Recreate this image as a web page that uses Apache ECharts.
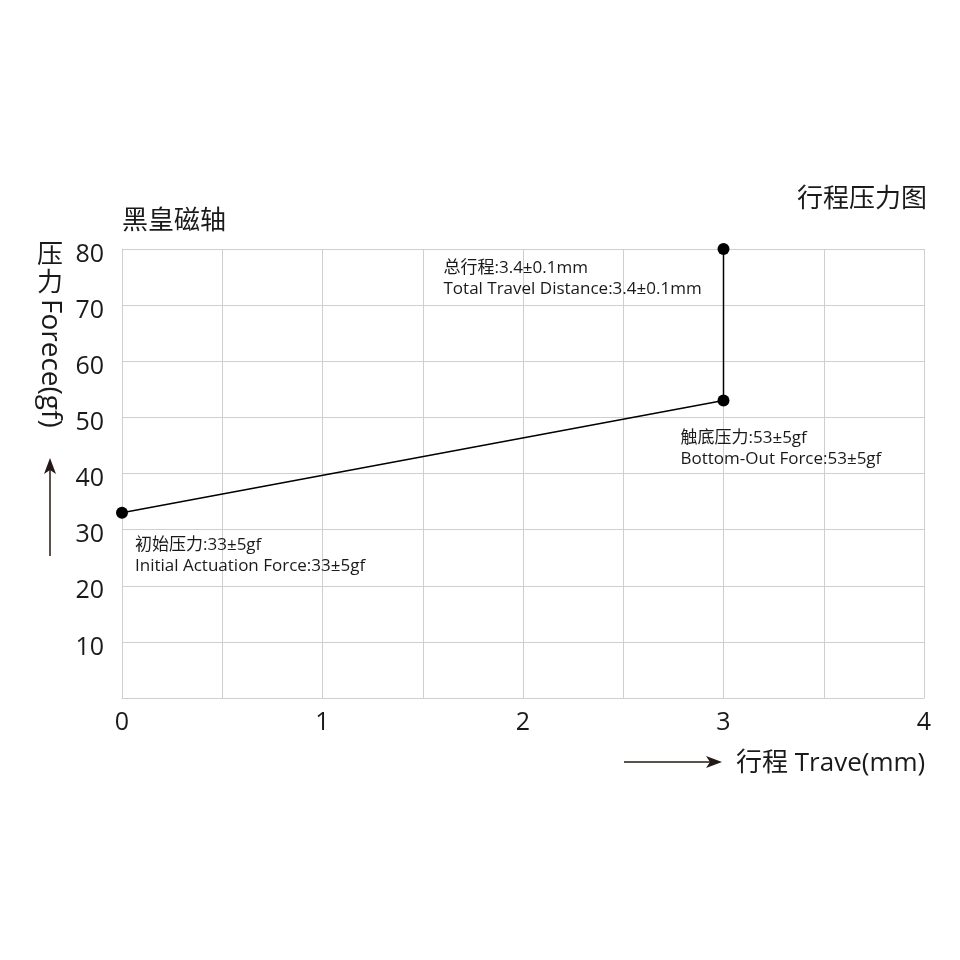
<!DOCTYPE html>
<html><head><meta charset="utf-8">
<script src="https://cdn.jsdelivr.net/npm/echarts@6/dist/echarts.min.js"></script>
<style>html,body{margin:0;padding:0;background:#fff}#c{width:960px;height:960px}</style>
</head><body><div id="c"></div>
<script>
var travel = [0, 3, 3];
var force = [33, 53, 80];
var notes = [
  '初始压力:33±5gf\nInitial Actuation Force:33±5gf',
  '触底压力:53±5gf\nBottom-Out Force:53±5gf',
  '总行程:3.4±0.1mm\nTotal Travel Distance:3.4±0.1mm'
];
var xTickLabels = ['0', '1', '2', '3', '4'];
var yTickLabels = ['10', '20', '30', '40', '50', '60', '70', '80'];
var FONT = '"Open Sans", "Noto Sans CJK SC", sans-serif';
var labelPos = [[19, 28], [-37, 33], [-274, 15]];

var chart = echarts.init(document.getElementById('c'));
chart.setOption({
  animation: false,
  grid: {left: 122, right: 36, top: 249, bottom: 262},
  xAxis: {
    type: 'value', min: 0, max: 4, interval: 0.5,
    axisLine: {lineStyle: {color: '#cfcfcf'}},
    axisTick: {show: false},
    splitLine: {lineStyle: {color: '#cfcfcf', width: 1}},
    axisLabel: {
      fontSize: 25, color: '#1a1a1a', fontFamily: FONT, margin: 12,
      formatter: function (v) { return Number.isInteger(v) ? xTickLabels[v] : ''; }
    }
  },
  yAxis: {
    type: 'value', min: 0, max: 80, interval: 10,
    axisLine: {show: true, lineStyle: {color: '#cfcfcf'}},
    axisTick: {show: false},
    splitLine: {lineStyle: {color: '#cfcfcf', width: 1}},
    axisLabel: {
      fontSize: 25, color: '#1a1a1a', fontFamily: FONT, margin: 18,
      formatter: function (v) { return v === 0 ? '' : '{a|' + yTickLabels[v / 10 - 1] + '}'; },
      rich: {a: {fontSize: 25, color: '#1a1a1a', fontFamily: FONT, padding: [11, 0, 0, 0]}}
    }
  },
  series: [{
    type: 'line',
    data: travel.map(function (x, i) {
      return {
        value: [x, force[i]],
        label: {
          show: true, position: labelPos[i], formatter: notes[i],
          align: 'left', verticalAlign: 'top',
          fontSize: 17, lineHeight: 21, color: '#1a1a1a', fontFamily: FONT
        }
      };
    }),
    symbol: 'circle', symbolSize: 12,
    itemStyle: {color: '#000'},
    lineStyle: {color: '#000', width: 1.5}
  }],
  graphic: [
    {type: 'text', left: 122, top: 209, style: {text: '黑皇磁轴', fontSize: 26, fill: '#1a1a1a', fontFamily: FONT}},
    {type: 'text', right: 33, top: 187, style: {text: '行程压力图', fontSize: 26, fill: '#1a1a1a', fontFamily: FONT}},
    {type: 'text', x: 736, y: 764, style: {text: '行程 Trave(mm)', fontSize: 26, fill: '#1a1a1a', fontFamily: FONT, verticalAlign: 'middle'}},
    {type: 'line', shape: {x1: 624, y1: 762, x2: 716, y2: 762}, style: {stroke: '#231815', lineWidth: 1.5}},
    {type: 'polygon', shape: {points: [[722, 762], [706, 756], [710, 762], [706, 768]]}, style: {fill: '#231815'}},
    {type: 'text', x: 50, y: 256, style: {text: '压', fontSize: 26, fill: '#1a1a1a', fontFamily: FONT, align: 'center', verticalAlign: 'middle'}},
    {type: 'text', x: 50, y: 284, style: {text: '力', fontSize: 26, fill: '#1a1a1a', fontFamily: FONT, align: 'center', verticalAlign: 'middle'}},
    {type: 'text', x: 50, y: 299, rotation: -Math.PI / 2, style: {text: 'Forece(gf)', fontSize: 28, fill: '#1a1a1a', fontFamily: FONT, align: 'left', verticalAlign: 'middle'}},
    {type: 'line', shape: {x1: 50, y1: 556, x2: 50, y2: 466}, style: {stroke: '#231815', lineWidth: 1.5}},
    {type: 'polygon', shape: {points: [[50, 458], [44, 474], [50, 470], [56, 474]]}, style: {fill: '#231815'}}
  ]
});
</script></body></html>
